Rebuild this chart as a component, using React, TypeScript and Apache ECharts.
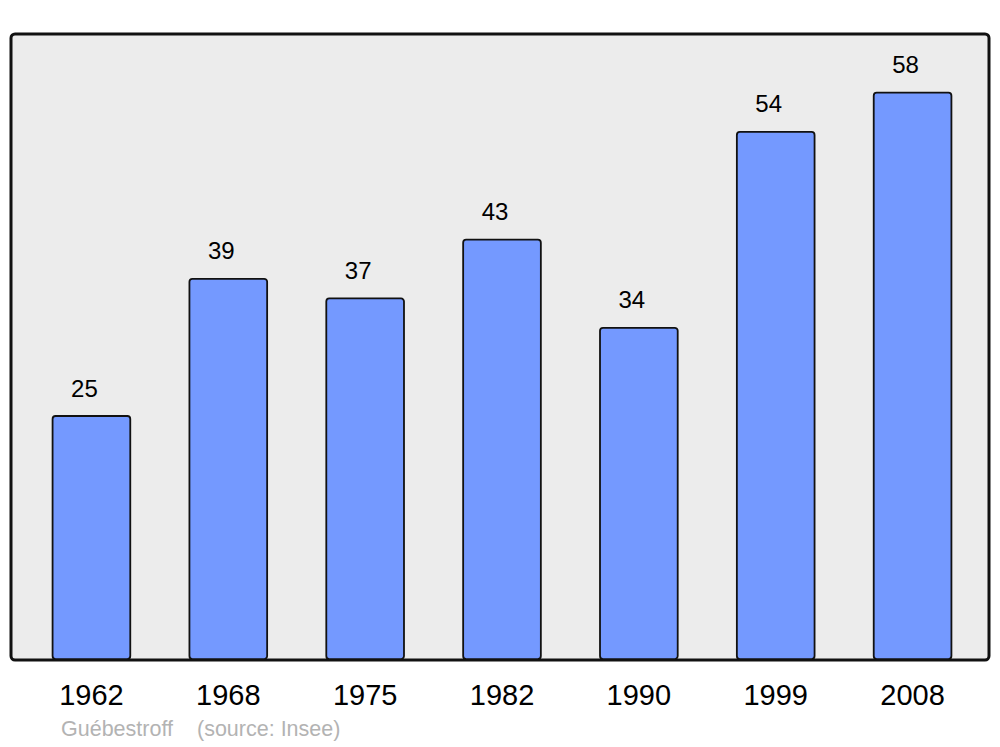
import React, { useEffect, useRef } from "react";
import * as echarts from "echarts";

const years = ["1962", "1968", "1975", "1982", "1990", "1999", "2008"];
const population = [25, 39, 37, 43, 34, 54, 58];
const townName = "Guébestroff";
const sourceText = "(source: Insee)";

export default function App() {
  const ref = useRef<HTMLDivElement>(null);
  useEffect(() => {
    if (!ref.current) return;
    const chart = echarts.init(ref.current, null, { renderer: "svg" });
    const font = "Liberation Sans, Arial, sans-serif";
    chart.setOption({
      animation: false,
      backgroundColor: "#ffffff",
      textStyle: { fontFamily: font },
      grid: { left: 23, right: 19, top: 34, bottom: 87, containLabel: false },
      graphic: [
        {
          type: "rect",
          z: -10,
          shape: { x: 11, y: 34, width: 978, height: 626, r: 4 },
          style: { fill: "#ececec", stroke: "#111111", lineWidth: 3 },
        },
        {
          type: "text",
          left: 61,
          top: 718,
          style: { text: townName, fontSize: 21.5, fill: "#b3b3b3", fontFamily: font },
        },
        {
          type: "text",
          left: 197,
          top: 718,
          style: { text: sourceText, fontSize: 21.5, fill: "#b3b3b3", fontFamily: font },
        },
      ],
      xAxis: {
        type: "category",
        data: years,
        axisLine: { show: false },
        axisTick: { show: false },
        axisLabel: { fontSize: 29, color: "#000", margin: 20, fontFamily: font },
      },
      yAxis: {
        type: "value",
        min: 0,
        max: 63.9,
        show: false,
        splitLine: { show: false },
      },
      series: [
        {
          type: "bar",
          data: population,
          barWidth: 79.5,
          itemStyle: { color: "#7499ff", borderColor: "#111111", borderWidth: 1.8, borderRadius: 3 },
          label: {
            show: true,
            position: "top",
            distance: 15,
            offset: [-7, 0],
            fontSize: 24,
            color: "#000",
            fontFamily: font,
          },
        },
      ],
    });
    return () => chart.dispose();
  }, []);
  return <div ref={ref} style={{ position: "fixed", left: 0, top: 0, width: 1000, height: 747 }} />;
}
